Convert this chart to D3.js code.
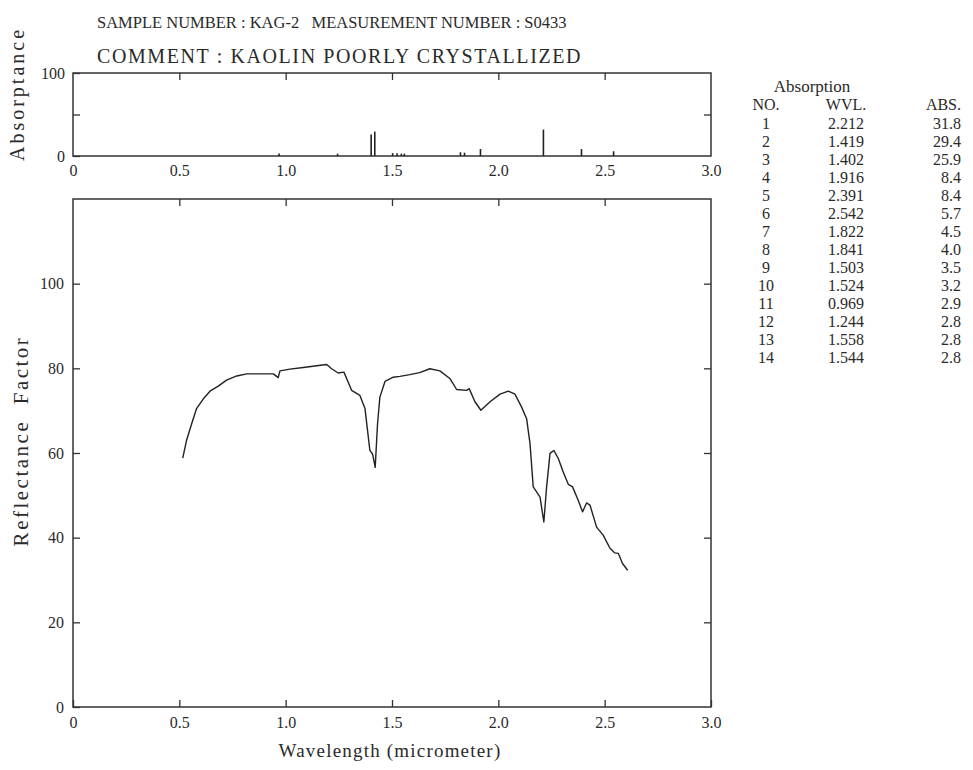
<!DOCTYPE html>
<html>
<head>
<meta charset="utf-8">
<script src="https://cdn.jsdelivr.net/npm/d3@7"></script>
<style>
  body { margin: 0; background: #fff; }
  svg text { font-family: "Liberation Serif", "DejaVu Serif", serif; fill: #2a2a2a; }
  .frame { fill: none; stroke: #333; stroke-width: 1.5; }
  .axis path { display: none; }
  .axis line { stroke: #333; stroke-width: 1.3; }
  .axis text { font-size: 16px; font-family: "Liberation Serif", serif; fill: #2a2a2a; }
</style>
</head>
<body>
<script>
// reflectance spectrum
var wavelength = [0.516, 0.534, 0.558, 0.581, 0.613, 0.644, 0.683, 0.722, 0.770, 0.817, 0.879, 0.942, 0.965, 0.973,
                  1.020, 1.083, 1.146, 1.193, 1.216, 1.247, 1.274, 1.310, 1.349, 1.373, 1.396, 1.409, 1.421, 1.432,
                  1.443, 1.467, 1.506, 1.537, 1.584, 1.630, 1.678, 1.725, 1.772, 1.804, 1.851, 1.863, 1.890, 1.918,
                  1.961, 2.008, 2.047, 2.078, 2.109, 2.133, 2.149, 2.164, 2.180, 2.196, 2.214, 2.227, 2.243, 2.261,
                  2.282, 2.305, 2.329, 2.349, 2.376, 2.396, 2.415, 2.431, 2.462, 2.493, 2.525, 2.548, 2.564, 2.584, 2.608]
var reflectance = [58.8, 63.0, 66.9, 70.5, 72.8, 74.6, 75.8, 77.2, 78.2, 78.7, 78.7, 78.7, 77.8, 79.4,
                   79.8, 80.2, 80.6, 80.9, 79.9, 78.9, 79.1, 74.8, 73.6, 70.5, 60.6, 59.7, 56.6, 66.9,
                   73.2, 76.9, 77.9, 78.1, 78.5, 79.0, 79.9, 79.4, 77.6, 75.0, 74.8, 75.2, 72.1, 70.1,
                   72.1, 73.9, 74.6, 73.9, 70.9, 68.1, 62.2, 52.0, 50.8, 49.6, 43.7, 52.0, 59.9, 60.6,
                   58.7, 55.5, 52.6, 52.0, 48.8, 46.1, 48.2, 47.7, 42.5, 40.6, 37.5, 36.4, 36.3, 33.9, 32.3]

// absorption table
var peakNo = [1, 2, 3, 4, 5, 6, 7, 8, 9, 10, 11, 12, 13, 14]
var peakWvl = [2.212, 1.419, 1.402, 1.916, 2.391, 2.542, 1.822, 1.841, 1.503, 1.524, 0.969, 1.244, 1.558, 1.544]
var peakAbs = [31.8, 29.4, 25.9, 8.4, 8.4, 5.7, 4.5, 4.0, 3.5, 3.2, 2.9, 2.8, 2.8, 2.8]

var xTicks = [0, 0.5, 1.0, 1.5, 2.0, 2.5, 3.0]
var reflTicks = [0, 20, 40, 60, 80, 100]
var absTicks = [0, 50, 100]
var headerLines = ['SAMPLE NUMBER : KAG-2   MEASUREMENT NUMBER : S0433',
                   'COMMENT : KAOLIN POORLY CRYSTALLIZED']

var W = 973, H = 770
var svg = d3.select('body').append('svg').attr('width', W).attr('height', H)

var left = 73, right = 711
var x = d3.scaleLinear().domain([0, 3]).range([left, right])
var yAbs = d3.scaleLinear().domain([0, 100]).range([156, 73])
var yRef = d3.scaleLinear().domain([0, 120]).range([707, 199])

var fmtX = (d) => d === 0 ? '0' : d3.format('.1f')(d)

// header
svg.append('text').attr('x', 97).attr('y', 28).style('font-size', '16.5px')
  .attr('xml:space', 'preserve').text(headerLines[0])
svg.append('text').attr('x', 97).attr('y', 63).style('font-size', '20px').style('letter-spacing', '1.6px')
  .text(headerLines[1])

// absorptance panel
var absPanel = svg.append('g')
absPanel.append('rect').attr('class', 'frame')
  .attr('x', left).attr('y', yAbs(100)).attr('width', right - left).attr('height', yAbs(0) - yAbs(100))
absPanel.append('g').attr('class', 'axis').attr('transform', 'translate(0,' + yAbs(0) + ')')
  .call(d3.axisBottom(x).tickValues(xTicks).tickSize(0).tickPadding(9).tickFormat(fmtX))
absPanel.append('g').attr('class', 'axis').attr('transform', 'translate(0,' + yAbs(100) + ')')
  .call(d3.axisTop(x).tickValues(xTicks.slice(1, -1)).tickSize(-7).tickFormat(''))
absPanel.append('g').attr('class', 'axis').attr('transform', 'translate(' + left + ',0)')
  .call(d3.axisLeft(yAbs).tickValues(absTicks).tickSize(-7).tickPadding(8)
        .tickFormat((d) => d === 50 ? '' : d))
absPanel.append('g').attr('class', 'axis').attr('transform', 'translate(' + right + ',0)')
  .call(d3.axisRight(yAbs).tickValues([50]).tickSize(-7).tickFormat(''))
absPanel.selectAll('line.peak').data(peakWvl).enter().append('line')
  .attr('class', 'peak')
  .attr('x1', (d) => x(d)).attr('x2', (d) => x(d))
  .attr('y1', yAbs(0)).attr('y2', (d, i) => yAbs(peakAbs[i]))
  .attr('stroke', '#222').attr('stroke-width', 1.6)
svg.append('text').attr('transform', 'translate(24,94) rotate(-90)')
  .attr('text-anchor', 'middle').style('font-size', '20px').style('letter-spacing', '3px')
  .text('Absorptance')

// reflectance panel
var main = svg.append('g')
main.append('rect').attr('class', 'frame')
  .attr('x', left).attr('y', yRef(120)).attr('width', right - left).attr('height', yRef(0) - yRef(120))
main.append('g').attr('class', 'axis').attr('transform', 'translate(0,' + yRef(0) + ')')
  .call(d3.axisBottom(x).tickValues(xTicks).tickSize(-7).tickPadding(10).tickFormat(fmtX))
main.append('g').attr('class', 'axis').attr('transform', 'translate(0,' + yRef(120) + ')')
  .call(d3.axisTop(x).tickValues(xTicks.slice(1, -1)).tickSize(-7).tickFormat(''))
main.append('g').attr('class', 'axis').attr('transform', 'translate(' + left + ',0)')
  .call(d3.axisLeft(yRef).tickValues(reflTicks).tickSize(-7).tickPadding(9))
main.append('g').attr('class', 'axis').attr('transform', 'translate(' + right + ',0)')
  .call(d3.axisRight(yRef).tickValues(reflTicks.slice(1)).tickSize(-7).tickFormat(''))

var line = d3.line().x((d) => x(d[0])).y((d) => yRef(d[1]))
main.append('path').datum(d3.zip(wavelength, reflectance))
  .attr('d', line).attr('fill', 'none').attr('stroke', '#222').attr('stroke-width', 1.4)
  .attr('stroke-linejoin', 'round')

svg.append('text').attr('x', (left + right) / 2 - 2).attr('y', 757)
  .attr('text-anchor', 'middle').style('font-size', '19px').style('letter-spacing', '1.2px')
  .text('Wavelength (micrometer)')
svg.append('text').attr('transform', 'translate(28,441) rotate(-90)')
  .attr('text-anchor', 'middle').style('font-size', '21px').style('letter-spacing', '2.5px')
  .attr('xml:space', 'preserve').text('Reflectance  Factor')

// table
var tbl = svg.append('g').style('font-size', '16px')
tbl.append('text').attr('x', 812).attr('y', 92).attr('text-anchor', 'middle').style('font-size', '17px').text('Absorption')
var colX = [766, 846, 961]
var headY = 110, rowH = 18
tbl.append('text').attr('x', colX[0]).attr('y', headY).attr('text-anchor', 'middle').text('NO.')
tbl.append('text').attr('x', colX[1]).attr('y', headY).attr('text-anchor', 'middle').text('WVL.')
tbl.append('text').attr('x', colX[2]).attr('y', headY).attr('text-anchor', 'end').text('ABS.')
var rows = tbl.selectAll('g.row').data(peakNo).enter().append('g').attr('class', 'row')
  .attr('transform', (d, i) => 'translate(0,' + (headY + 19 + rowH * i) + ')')
rows.append('text').attr('x', colX[0]).attr('text-anchor', 'middle').text((d) => d)
rows.append('text').attr('x', colX[1]).attr('text-anchor', 'middle').text((d, i) => d3.format('.3f')(peakWvl[i]))
rows.append('text').attr('x', colX[2]).attr('text-anchor', 'end').text((d, i) => d3.format('.1f')(peakAbs[i]))
</script>
</body>
</html>
